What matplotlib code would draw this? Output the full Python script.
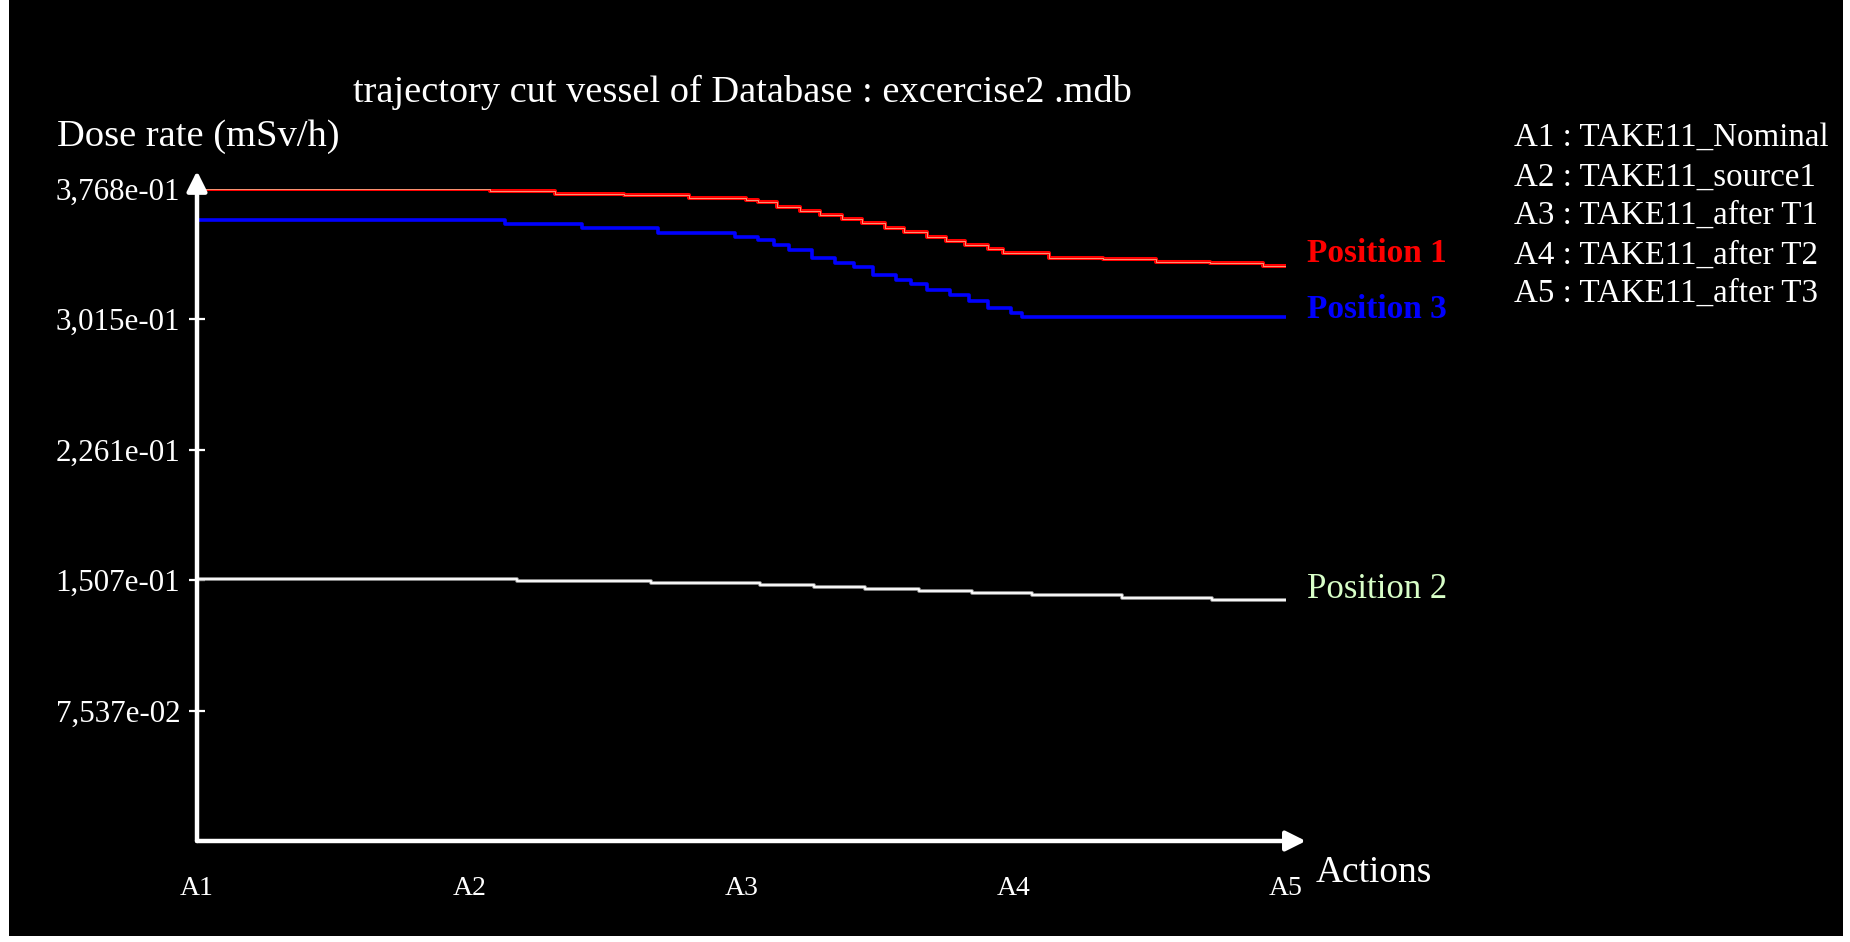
import matplotlib
matplotlib.use("Agg")
import matplotlib.pyplot as plt
from matplotlib.patches import Rectangle

# x positions in action units (0 = A1 ... 4 = A5), values in mSv/h
actions = ["A1", "A2", "A3", "A4", "A5"]
action_names = [
    "A1 : TAKE11_Nominal",
    "A2 : TAKE11_source1",
    "A3 : TAKE11_after T1",
    "A4 : TAKE11_after T2",
    "A5 : TAKE11_after T3",
]

pos1_x = [0.0, 1.076, 1.315, 1.568, 1.807, 2.017, 2.061, 2.130, 2.215, 2.288, 2.369,
          2.443, 2.527, 2.597, 2.681, 2.751, 2.821, 2.905, 2.960, 3.129, 3.328,
          3.522, 3.721, 3.916, 4.0]
pos1_y = [0.3768, 0.3758, 0.3739, 0.3733, 0.3714, 0.3704, 0.3695, 0.3666, 0.3641,
          0.3618, 0.3593, 0.3570, 0.3541, 0.3518, 0.3492, 0.3467, 0.3444, 0.3419,
          0.3396, 0.3371, 0.3362, 0.3348, 0.3342, 0.3323, 0.3323]

pos3_x = [0.0, 1.131, 1.414, 1.693, 1.976, 2.061, 2.119, 2.174, 2.259, 2.343, 2.413,
          2.483, 2.567, 2.623, 2.681, 2.766, 2.836, 2.905, 2.990, 3.030, 4.0]
pos3_y = [0.3589, 0.3566, 0.3541, 0.3515, 0.3492, 0.3473, 0.3444, 0.3415, 0.3371,
          0.3342, 0.3315, 0.3271, 0.3242, 0.3219, 0.3184, 0.3155, 0.3122, 0.3078,
          0.3050, 0.3026, 0.3026]

pos2_x = [0.0, 1.175, 1.668, 2.068, 2.266, 2.454, 2.652, 2.847, 3.067, 3.398, 3.728, 4.0]
pos2_y = [0.1516, 0.1504, 0.1491, 0.1481, 0.1468, 0.1455, 0.1443, 0.1431, 0.1420,
          0.1406, 0.1394, 0.1394]

y_ticks = [0.07537, 0.1507, 0.2261, 0.3015, 0.3768]
y_tick_labels = ["7,537e-02", "1,507e-01", "2,261e-01", "3,015e-01", "3,768e-01"]

W, H = 1850, 942
serif = "Liberation Serif"

fig = plt.figure(figsize=(W / 100, H / 100), dpi=100, facecolor="white")
# black panel inside a thin white margin
fig.patches.append(Rectangle((9 / W, 6 / H), (W - 16) / W, 1, transform=fig.transFigure,
                             facecolor="black", edgecolor="none", zorder=-10))

ax = fig.add_axes([197 / W, (H - 841) / H, 1089 / W, 652 / H])
ax.set_facecolor("none")
ax.set_xlim(0, 4)
ax.set_ylim(0, 0.3768)
for s in ax.spines.values():
    s.set_visible(False)

# series
ax.step(pos1_x, pos1_y, where="post", color="red", lw=2.9, zorder=3)
ax.step(pos1_x, pos1_y, where="post", color="#f6d8a8", lw=0.6, alpha=0.8, zorder=4)
ax.step(pos3_x, pos3_y, where="post", color="#0000ff", lw=2.6, zorder=3)
ax.step(pos2_x, pos2_y, where="post", color="#a0a0a0", lw=2.6, zorder=3)
ax.step(pos2_x, pos2_y, where="post", color="white", lw=1.3, zorder=4)

# axes as arrows
arrow = dict(arrowstyle="-|>,head_length=0.6,head_width=0.3", lw=3.2, color="white",
             shrinkA=0, shrinkB=0, mutation_scale=20)
ax.annotate("", xy=(0, 0.3872), xytext=(0, 0), arrowprops=arrow, annotation_clip=False, zorder=5)
ax.annotate("", xy=(4.073, 0), xytext=(0, 0), arrowprops=arrow, annotation_clip=False, zorder=5)

ax.set_yticks(y_ticks)
ax.set_yticklabels(y_tick_labels, family=serif, fontsize=22.3, color="white")
ax.tick_params(axis="y", direction="inout", length=12, width=1.6, color="white", pad=6)
ax.set_xticks(range(len(actions)))
ax.set_xticklabels(actions, family=serif, fontsize=20, color="white")
ax.tick_params(axis="x", length=0, pad=25)

# texts
fig.text(742 / W, 1 - 92 / H, "trajectory cut vessel of Database : excercise2 .mdb",
         family=serif, fontsize=27.6, color="white", ha="center", va="center")
fig.text(57 / W, 1 - 137 / H, "Dose rate (mSv/h)", family=serif, fontsize=27.7,
         color="white", ha="left", va="center")
fig.text(1316 / W, 1 - 873 / H, "Actions", family=serif, fontsize=27,
         color="white", ha="left", va="center")

for i, name in enumerate(action_names):
    fig.text(1514 / W, 1 - (138 + 39 * i) / H, name, family=serif, fontsize=23.8,
             color="white", ha="left", va="center")

fig.text(1307 / W, 1 - 254 / H, "Position 1", family=serif, fontsize=24, weight="bold",
         color="red", ha="left", va="center")
fig.text(1307 / W, 1 - 309 / H, "Position 3", family=serif, fontsize=24, weight="bold",
         color="#0000ff", ha="left", va="center")
fig.text(1307 / W, 1 - 589 / H, "Position 2", family=serif, fontsize=25,
         color="#d8ffc8", ha="left", va="center")

fig.savefig("out.png", dpi=100, facecolor=fig.get_facecolor())
